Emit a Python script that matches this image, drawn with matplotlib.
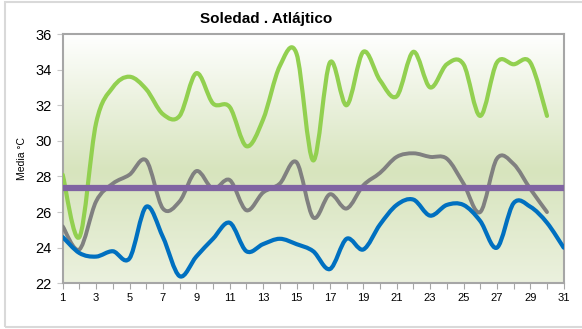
import matplotlib
matplotlib.use('Agg')
import matplotlib.pyplot as plt
import numpy as np
from matplotlib.path import Path
from matplotlib.patches import PathPatch, Rectangle
from matplotlib.colors import LinearSegmentedColormap

plt.rcParams['font.family'] = ['Liberation Sans', 'DejaVu Sans']

# datos
dias_max = list(range(1, 31))
t_max = [28.1, 24.6, 31.0, 33.0, 33.6, 32.9, 31.5, 31.4, 33.8, 32.1,
         31.9, 29.7, 31.2, 34.2, 34.9, 28.9, 34.4, 32.0, 35.0, 33.4,
         32.5, 35.0, 33.0, 34.3, 34.3, 31.4, 34.4, 34.3, 34.4, 31.4]
dias_med = list(range(1, 31))
t_med = [25.2, 23.9, 26.6, 27.6, 28.1, 28.9, 26.2, 26.6, 28.3, 27.3,
         27.8, 26.1, 27.1, 27.6, 28.8, 25.7, 27.0, 26.2, 27.5, 28.2,
         29.1, 29.3, 29.1, 29.0, 27.6, 26.0, 29.0, 28.7, 27.3, 26.0]
dias_min = list(range(1, 32))
t_min = [24.6, 23.7, 23.5, 23.8, 23.4, 26.3, 24.6, 22.4, 23.5, 24.5,
         25.4, 23.8, 24.2, 24.5, 24.2, 23.8, 22.8, 24.5, 23.9, 25.3,
         26.4, 26.7, 25.8, 26.4, 26.4, 25.5, 24.0, 26.5, 26.3, 25.4,
         24.0]
media_mes = 27.37
xticks = list(range(1, 32, 2))
yticks = list(range(22, 37, 2))


def curva_suave(ax, x, y, color, lw):
    # curva tipo Excel (bezier por tramos)
    x = np.asarray(x, float)
    y = np.asarray(y, float)
    pts = np.column_stack([x, y])
    verts = [pts[0]]
    codes = [Path.MOVETO]
    n = len(pts)
    for i in range(n - 1):
        p0 = pts[i - 1] if i > 0 else pts[i]
        p1 = pts[i]
        p2 = pts[i + 1]
        p3 = pts[i + 2] if i + 2 < n else pts[i + 1]
        c1 = p1 + (p2 - p0) / 6.0
        c2 = p2 - (p3 - p1) / 6.0
        verts += [c1, c2, p2]
        codes += [Path.CURVE4] * 3
    ax.add_patch(PathPatch(Path(verts, codes), fill=False, edgecolor=color,
                           lw=lw, capstyle='round', joinstyle='round', zorder=3))


fig = plt.figure(figsize=(5.82, 3.29), dpi=100)
fig.patches.append(Rectangle((5 / 582, 2 / 329), 1.0, 325 / 329, transform=fig.transFigure,
                             fill=False, edgecolor='#D9D9D9', lw=1.5))

ax = fig.add_axes([62.7 / 582, (329 - 283.3) / 329, (563.7 - 62.7) / 582, (283.3 - 34) / 329])

# fondo degradado
cmap = LinearSegmentedColormap.from_list('fondo', [(0, '#EBF1DE'), (0.45, '#D7E4BD'), (1, '#FFFFFF')])
grad = np.linspace(0, 1, 256).reshape(-1, 1)
ax.imshow(grad, cmap=cmap, aspect='auto', origin='lower', extent=[1, 31, 22, 36], zorder=0)

curva_suave(ax, dias_max, t_max, '#92D050', 3.0)
curva_suave(ax, dias_med, t_med, '#808080', 2.8)
curva_suave(ax, dias_min, t_min, '#0070C0', 3.0)
ax.plot([1, 31], [media_mes, media_mes], color='#8064A2', lw=4.5, zorder=4, solid_capstyle='butt')

ax.set_xlim(1, 31)
ax.set_ylim(22, 36)
ax.set_xticks(range(1, 32))
ax.set_xticklabels([str(d) if d in xticks else '' for d in range(1, 32)], fontsize=8)
ax.set_yticks(yticks)
ax.set_yticklabels([str(v) for v in yticks], fontsize=10.5)
for s in ax.spines.values():
    s.set_color('#A6A6A6')
    s.set_linewidth(1.5)
ax.tick_params(axis='x', direction='out', length=4, color='#A6A6A6', pad=3)
ax.tick_params(axis='y', direction='out', length=4, color='#C8C8C8', pad=4)

ax.set_ylabel('Media °C', fontsize=7.5, labelpad=6)
fig.text(266 / 582, (329 - 19) / 329, 'Soledad . Atlájtico', ha='center', va='center',
         fontsize=11, fontweight='bold')

fig.savefig('out.png', dpi=100)
